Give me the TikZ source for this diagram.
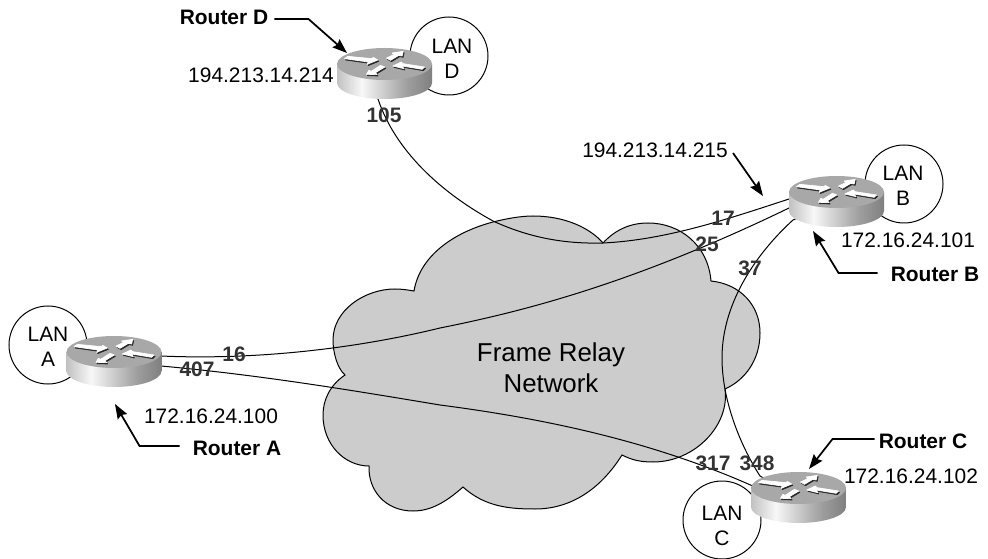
\documentclass[tikz,border=0pt]{standalone}
\usepackage{fontspec}
\setmainfont{Liberation Sans}
\usetikzlibrary{arrows.meta}
\pgfdeclarehorizontalshading{routerside}{100bp}{rgb(0bp)=(0.50,0.50,0.50); rgb(14bp)=(0.58,0.58,0.58); rgb(38bp)=(0.97,0.97,0.97); rgb(62bp)=(0.62,0.62,0.62); rgb(100bp)=(0.27,0.27,0.27)}
\definecolor{cloudgray}{gray}{0.80}
\definecolor{numgray}{gray}{0.2}
\tikzset{
  link/.style={draw=black,line width=0.75pt},
  callout/.style={draw=black,line width=1.3pt,-{Stealth[length=11pt,width=8pt,inset=1.5pt]}},
  lanring/.style={circle,draw=black,fill=white,line width=0.75pt,minimum size=58.5pt,inner sep=0pt},
  routerbox/.style={rectangle,minimum width=71.25pt,minimum height=38.25pt,inner sep=0pt},
  txt/.style={font=\fontsize{15.7}{18.75}\selectfont,anchor=base,inner sep=0pt},
  lantxt/.style={font=\fontsize{15.7}{18.75}\selectfont,align=center,inner sep=0pt},
  bold/.style={font=\fontsize{15.7}{18.75}\selectfont\bfseries,anchor=base,inner sep=0pt},
  num/.style={font=\fontsize{15.7}{18.75}\selectfont\bfseries,anchor=base,inner sep=0pt,text=numgray},
}
\newcommand\routerart[2]{%
  \begin{scope}[shift={(#1,#2)},x=0.25pt,y=-0.25pt]
    \shade[shading=routerside] (-142.5,0) -- (-142.5,57) .. controls (-142.5,83.5) and (-78.7,105) .. (0,105)
      .. controls (78.7,105) and (142.5,83.5) .. (142.5,57) -- (142.5,0) -- cycle;
    \fill[gray!68!white] (-142.5,0) .. controls (-142.5,-26.5) and (-78.7,-48) .. (0,-48)
      .. controls (78.7,-48) and (142.5,-26.5) .. (142.5,0)
      .. controls (142.5,26.5) and (78.7,48) .. (0,48)
      .. controls (-78.7,48) and (-142.5,26.5) .. (-142.5,0) -- cycle;
    \foreach \ox/\oy/\col in {3/4/black!85,0/0/white}{
      \begin{scope}[shift={(\ox,\oy)}]
      \filldraw[fill=\col,draw=\col,line width=0.5pt,line join=round] (-120,-16) -- (-110,-23) -- (-37,-16) -- (-34,-20) -- (-20,-12) -- (-52,1) -- (-49,-6) -- cycle;
      \filldraw[fill=\col,draw=\col,line width=0.5pt,line join=round] (6,-18) -- (28,-28) -- (23,-33) -- (56,-38) -- (53,-24) -- (43,-26) -- (18,-11) -- cycle;
      \filldraw[fill=\col,draw=\col,line width=0.5pt,line join=round] (25,6) -- (50,-6) -- (56,-1) -- (120,9) -- (113,16) -- (53,6) -- (58,14) -- cycle;
      \filldraw[fill=\col,draw=\col,line width=0.5pt,line join=round] (-54,31) -- (-47,19) -- (-40,22) -- (-12,4) -- (1,9) -- (-27,26) -- (-22,32) -- cycle;
      \end{scope}
    }
  \end{scope}}
\begin{document}
\begin{tikzpicture}[x=0.75pt,y=-0.75pt]
\useasboundingbox (0,0) rectangle (988,559);
% cloud
\draw[fill=cloudgray,line width=0.75pt,line join=miter]
  (345,375) .. controls (337,368) and (333,352) .. (333,340)
  .. controls (333,310) and (365,289) .. (395,289)
  .. controls (402,289) and (408,290) .. (414,291)
  .. controls (420,255) and (455,232) .. (493,222)
  .. controls (505,219) and (520,216) .. (533,216)
  .. controls (565,216) and (590,228) .. (603,243)
  .. controls (615,230) and (630,223) .. (648,223)
  .. controls (680,223) and (708,245) .. (711,281)
  .. controls (740,284) and (760,305) .. (760,333)
  .. controls (760,360) and (745,380) .. (725,389)
  .. controls (730,425) and (695,462) .. (653,462)
  .. controls (640,462) and (632,460) .. (622,455)
  .. controls (600,490) and (570,509) .. (535,509)
  .. controls (510,509) and (485,507) .. (463,487)
  .. controls (445,503) and (430,511) .. (413,511)
  .. controls (385,511) and (368,490) .. (369,466)
  .. controls (345,466) and (323,445) .. (323,415)
  .. controls (323,400) and (330,385) .. (345,375) -- cycle;
% LAN rings
\node[lanring] (land) at (449,56) {};
\node[lanring] (lana) at (48,345) {};
\node[lanring] (lanb) at (904,184) {};
\node[lanring] (lanc) at (722,520) {};
% router anchors
\node[routerbox] (rd) at (384.5,73.5) {};
\node[routerbox] (ra) at (114,361.5) {};
\node[routerbox] (rb) at (836.5,201.5) {};
\node[routerbox] (rc) at (798.5,497.5) {};
% links
\draw[link] (rd.center) -- (378,99) .. controls (395,150) and (440,192) .. (493,221)
  .. controls (530,238) and (565,244) .. (603,243) .. controls (665,240) and (725,220) .. (789,199) -- (rb.center);
\draw[link] (ra.center) -- (161,356) .. controls (250,360) and (350,350) .. (440,328)
  .. controls (520,312) and (630,285) .. (789,208) -- (rb.center);
\draw[link] (ra.center) -- (161,366) .. controls (260,375) and (350,390) .. (440,405)
  .. controls (540,418) and (650,440) .. (755,487) -- (rc.center);
\draw[link] (rb.center) -- (793,220) .. controls (760,250) and (722,300) .. (722,358)
  .. controls (722,400) and (740,445) .. (760,476) -- (rc.center);
% routers
\routerart{384.5}{64}
\routerart{114}{352}
\routerart{836.5}{192}
\routerart{798.5}{488}
% texts
\node[lantxt] (tland) at (452,59) {LAN\\D};
\node[lantxt] (tlana) at (48,347) {LAN\\A};
\node[lantxt] (tlanb) at (903,186) {LAN\\B};
\node[lantxt] (tlanc) at (722,526) {LAN\\C};
\node[font=\fontsize{19.4}{23.25}\selectfont,align=center,inner sep=0pt] (frn) at (551,368) {Frame Relay\\Network};
\node[txt] (ipd) at (261,83) {194.213.14.214};
\node[txt] (ipb2) at (655,158) {194.213.14.215};
\node[txt] (ipb) at (908,248) {172.16.24.101};
\node[txt] (ipa) at (211,423) {172.16.24.100};
\node[txt] (ipc) at (911,483) {172.16.24.102};
\node[bold] (nd) at (224,25) {Router D};
\node[bold] (na) at (237,455) {Router A};
\node[bold] (nb) at (935,282) {Router B};
\node[bold] (nc) at (923,448) {Router C};
\node[num] (n105) at (384,123) {105};
\node[num] (n17) at (723,226) {17};
\node[num] (n25) at (707,252) {25};
\node[num] (n37) at (750,276) {37};
\node[num] (n16) at (234,361) {16};
\node[num] (n407) at (197,377) {407};
\node[num] (n317) at (713,470) {317};
\node[num] (n348) at (757,470) {348};
% callouts
\coordinate (tipd) at (347,53);
\coordinate (tipb2) at (763,196);
\coordinate (tipb) at (813,231);
\coordinate (tipa) at (115,404);
\coordinate (tipc) at (809,469);
\draw[callout] (nd.east |- 0,19) ++(6,0) -- ++(34,0) -- (tipd);
\draw[callout] (ipb2.east |- 0,153) ++(5,0) -- (tipb2);
\draw[callout] (nb.west |- 0,273) ++(-13,0) -- ++(-39,0) -- (tipb);
\draw[callout] (na.west |- 0,446) ++(-13,0) -- ++(-40,0) -- (tipa);
\draw[callout] (nc.west |- 0,439) ++(-4,0) -- ++(-42,0) -- (tipc);
\end{tikzpicture}
\end{document}
